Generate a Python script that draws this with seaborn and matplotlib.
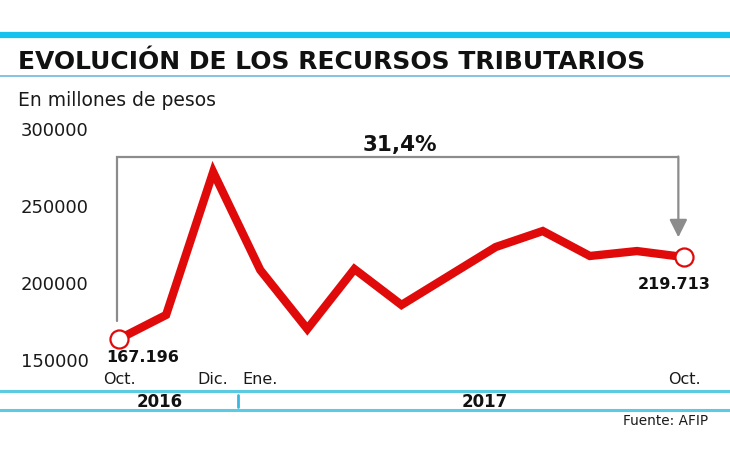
import matplotlib
matplotlib.use("Agg")
import numpy as np
import pandas as pd
import seaborn as sns
from matplotlib import pyplot as plt
from matplotlib.lines import Line2D

# * data (millones de pesos)
meses = ["Oct.", "Nov.", "Dic.", "Ene.", "Feb.", "Mar.", "Abr.",
         "May.", "Jun.", "Jul.", "Ago.", "Sep.", "Oct."]
recursos = [163000, 178600, 271400, 207800, 169500, 208400, 185100,
            203900, 222700, 233100, 216900, 220100, 216200]
tick_pos = [0, 2, 3, 12]
tick_labels = ["Oct.", "Dic.", "Ene.", "Oct."]
y_ticks = [150000, 200000, 250000, 300000]
anios = ["2016", "2017"]
etiquetas_ext = ["167.196", "219.713"]
variacion = "31,4%"

df = pd.DataFrame({"idx": np.arange(len(meses)), "mes": meses, "valor": recursos})

sns.set_theme(style="white")
plt.rcParams["font.family"] = ["DejaVu Sans"]

W, H = 730, 460
fig = plt.figure(figsize=(W / 100, H / 100), dpi=100)


def fx(px):
    return px / W


def fy(py):
    return 1 - py / H


# * axes placed so that Oct 2016 -> x=119px, Oct 2017 -> x=684px
ax = fig.add_axes([fx(119), fy(360), fx(684) - fx(119), fy(129) - fy(360)])
ax.set_xlim(0, 12)
ax.set_ylim(150000, 300000)

RED = "#e10a0a"
GRAY = "#8c8c8c"
CYAN = "#17c2ee"
LCYAN = "#5ccbe2"
INK = "#111111"

# * bracket + arrow (31,4%)
top = 281000
ax.plot([-0.04, -0.04, 11.88], [174500, top, top], color=GRAY, lw=1.6,
        clip_on=False, solid_joinstyle="miter", zorder=1)
ax.annotate("", xy=(11.88, 229000), xytext=(11.88, top + 500),
            arrowprops=dict(arrowstyle="-|>,head_length=0.9,head_width=0.45",
                            color=GRAY, lw=1.6, shrinkA=0, shrinkB=0),
            annotation_clip=False, zorder=1)

sns.lineplot(data=df, x="idx", y="valor", ax=ax, color=RED, lw=6,
             solid_joinstyle="miter", zorder=3)
ends = df.iloc[[0, -1]]
ax.plot(ends["idx"], ends["valor"], ls="none", marker="o", ms=13,
        mfc="white", mec=RED, mew=1.6, zorder=4, clip_on=False)

ax.set_xticks(tick_pos)
ax.set_xticklabels(tick_labels)
ax.set_yticks(y_ticks)
ax.set_yticklabels([str(v) for v in y_ticks])
ax.tick_params(axis="y", length=0, pad=22, labelsize=13, labelcolor="#1a1a1a")
ax.tick_params(axis="x", length=0, pad=9, labelsize=11.5, labelcolor="#1a1a1a")
for s in ax.spines.values():
    s.set_visible(False)
ax.set_xlabel("")
ax.set_ylabel("")
ax.patch.set_alpha(0)

# * value labels at the ends
fig.text(fx(143), fy(358), etiquetas_ext[0], ha="center", va="center",
         fontsize=11.5, fontweight="bold", color=INK)
fig.text(fx(674), fy(285), etiquetas_ext[1], ha="center", va="center",
         fontsize=11.5, fontweight="bold", color=INK)
fig.text(fx(400), fy(145), variacion, ha="center", va="center",
         fontsize=15.5, fontweight="bold", color=INK)

# * header
fig.add_artist(Line2D([0, 1], [fy(36), fy(36)], color=CYAN, lw=4.5,
                      transform=fig.transFigure))
fig.text(fx(18), fy(62), "EVOLUCIÓN DE LOS RECURSOS TRIBUTARIOS", ha="left",
         va="center", fontsize=18, fontweight="bold", color=INK)
fig.add_artist(Line2D([0, 1], [fy(77), fy(77)], color="#6fb9df", lw=1.2,
                      transform=fig.transFigure))
fig.text(fx(18), fy(101), "En millones de pesos", ha="left", va="center",
         fontsize=13.5, color="#1a1a1a")

# * year band
for yy in (392, 411):
    fig.add_artist(Line2D([0, 1], [fy(yy), fy(yy)], color=LCYAN, lw=2.2,
                          transform=fig.transFigure))
fig.add_artist(Line2D([fx(238), fx(238)], [fy(396), fy(408)], color="#3bb6e0",
                      lw=2, transform=fig.transFigure))
fig.text(fx(160), fy(402), anios[0], ha="center", va="center", fontsize=12,
         fontweight="bold", color=INK)
fig.text(fx(485), fy(402), anios[1], ha="center", va="center", fontsize=12,
         fontweight="bold", color=INK)
fig.text(fx(708), fy(421), "Fuente: AFIP", ha="right", va="center",
         fontsize=9.8, color="#1a1a1a")

fig.savefig("out.png", dpi=100, facecolor="white")
plt.close(fig)
